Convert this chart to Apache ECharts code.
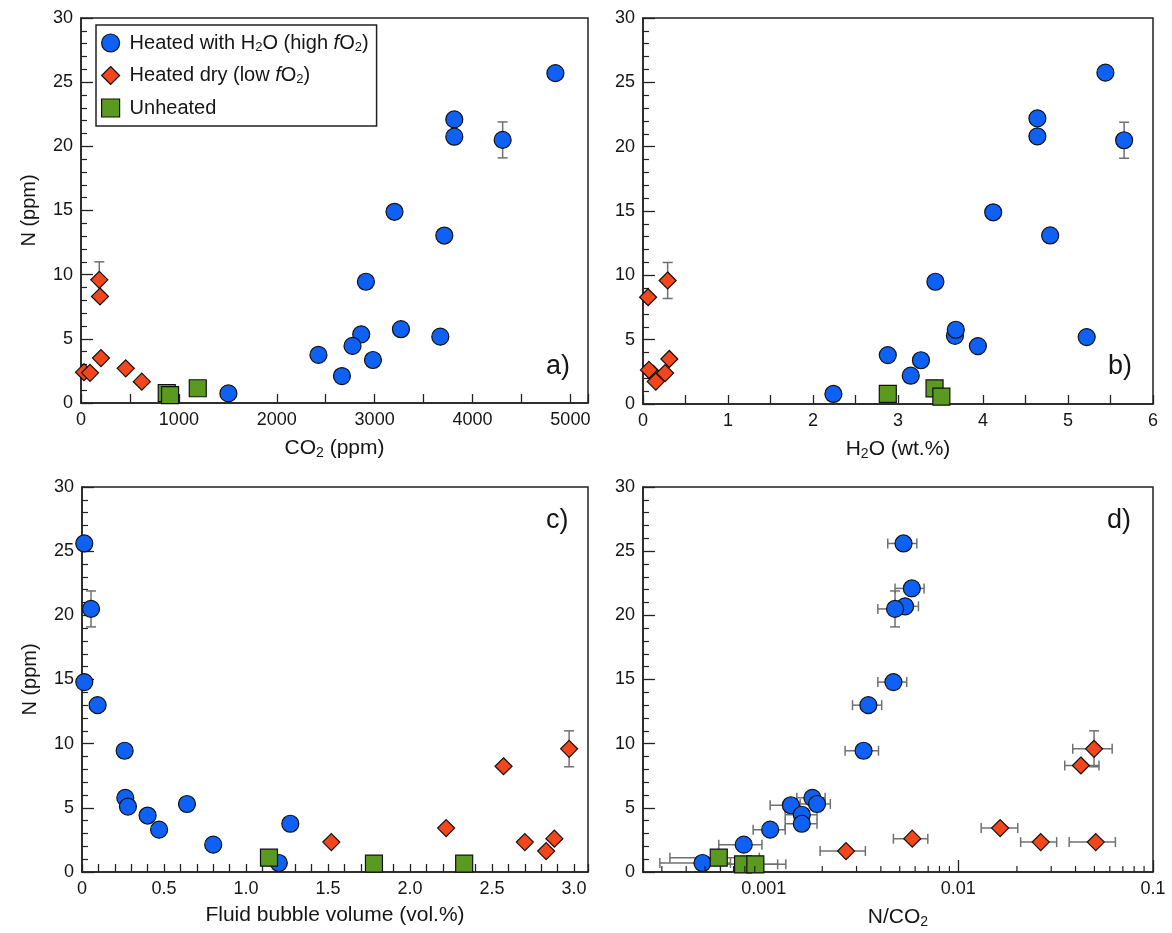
<!DOCTYPE html>
<html><head><meta charset="utf-8">
<script src="https://cdn.jsdelivr.net/npm/echarts@6/dist/echarts.min.js"></script>
<style>html,body{margin:0;padding:0;background:#fff}#c{width:1172px;height:933px}</style>
</head><body><div id="c"></div><script>
// ---------- Panel a: CO2 (ppm) vs N (ppm) ----------
const a_h2o_co2 = [4847, 3814, 3814, 4308, 3203, 3712, 2911, 2863, 2774, 3269, 3671, 2426, 2983, 2666, 1506];
const a_h2o_n   = [25.7, 22.1, 20.75, 20.5, 14.9, 13.05, 9.45, 5.35, 4.45, 5.75, 5.17, 3.75, 3.35, 2.1, 0.75];
const a_h2o_nerr = [0, 0, 0, 1.4, 0, 0, 0, 0, 0, 0, 0, 0, 0, 0, 0];
const a_dry_co2 = [187, 194, 204, 31, 92, 457, 621];
const a_dry_n   = [9.6, 8.3, 3.5, 2.4, 2.35, 2.7, 1.66];
const a_dry_nerr = [1.4, 0, 0, 0, 0, 0, 0];
const a_unh_co2 = [876, 910, 1193];
const a_unh_n   = [0.78, 0.62, 1.15];

// ---------- Panel b: H2O (wt.%) vs N (ppm) ----------
const b_h2o_h2o = [5.44, 4.64, 4.64, 5.66, 4.12, 4.79, 3.44, 3.67, 3.94, 3.68, 5.22, 2.88, 3.27, 3.15, 2.24];
const b_h2o_n   = [25.75, 22.2, 20.8, 20.5, 14.9, 13.1, 9.5, 5.3, 4.5, 5.77, 5.2, 3.8, 3.4, 2.2, 0.78];
const b_h2o_nerr = [0, 0, 0, 1.4, 0, 0, 0, 0, 0, 0, 0, 0, 0, 0, 0];
const b_dry_h2o = [0.29, 0.06, 0.31, 0.12, 0.07, 0.26, 0.15];
const b_dry_n   = [9.6, 8.3, 3.5, 2.35, 2.65, 2.4, 1.74];
const b_dry_nerr = [1.4, 0, 0, 0, 0, 0, 0];
const b_unh_h2o = [2.88, 3.43, 3.51];
const b_unh_n   = [0.78, 1.22, 0.57];

// ---------- Panel c: Fluid bubble volume (vol.%) vs N (ppm) ----------
const c_h2o_vol = [0.014, 0.055, 0.014, 0.095, 0.26, 0.264, 0.28, 0.40, 0.47, 0.64, 0.80, 1.27, 1.20];
const c_h2o_n   = [25.6, 20.5, 14.8, 13.0, 9.45, 5.78, 5.1, 4.4, 3.3, 5.3, 2.13, 3.76, 0.7];
const c_h2o_nerr = [0, 1.4, 0, 0, 0, 0, 0, 0, 0, 0, 0, 0, 0];
const c_dry_vol = [2.97, 2.57, 2.22, 1.52, 2.70, 2.88, 2.83];
const c_dry_n   = [9.6, 8.24, 3.42, 2.33, 2.33, 2.6, 1.63];
const c_dry_nerr = [1.4, 0, 0, 0, 0, 0, 0];
const c_unh_vol = [1.14, 1.78, 2.33];
const c_unh_n   = [1.12, 0.65, 0.65];

// ---------- Panel d: N/CO2 vs N (ppm) ----------
const d_h2o_ratio = [0.00523, 0.00577, 0.00533, 0.00473, 0.00464, 0.00345, 0.00326, 0.00178, 0.00188, 0.00138, 0.00157, 0.00157, 0.00108, 0.00079, 0.000485];
const d_h2o_n     = [25.6, 22.1, 20.7, 20.5, 14.8, 13.0, 9.45, 5.78, 5.3, 5.2, 4.46, 3.76, 3.3, 2.13, 0.7];
const d_h2o_lo    = [0.00434, 0.00473, 0.0045, 0.00386, 0.00386, 0.00286, 0.00262, 0.00148, 0.00154, 0.00108, 0.00129, 0.00129, 0.000883, 0.000588, 0.000293];
const d_h2o_hi    = [0.00612, 0.00667, 0.00624, 0.00543, 0.00543, 0.00404, 0.00389, 0.00207, 0.0022, 0.00148, 0.00188, 0.00188, 0.00129, 0.00098, 0.000675];
const d_h2o_nerr  = [0, 0, 0, 1.4, 0, 0, 0, 0, 0, 0, 0, 0, 0, 0, 0];
const d_dry_ratio = [0.0498, 0.0426, 0.0164, 0.0058, 0.00265, 0.0265, 0.0508];
const d_dry_n     = [9.6, 8.3, 3.42, 2.6, 1.63, 2.33, 2.33];
const d_dry_lo    = [0.0387, 0.0352, 0.0131, 0.00464, 0.00195, 0.0209, 0.0371];
const d_dry_hi    = [0.0617, 0.0528, 0.0202, 0.00697, 0.00333, 0.032, 0.0641];
const d_dry_nerr  = [1.4, 0, 0, 0, 0, 0, 0];
const d_unh_ratio = [0.000588, 0.000784, 0.000906];
const d_unh_n     = [1.12, 0.6, 0.6];
const d_unh_lo    = [0.00033, 0.00048, 0.00060];
const d_unh_hi    = [0.00095, 0.00118, 0.00130];
const d_minor_ticks = [0.0003, 0.0004, 0.0005, 0.0006, 0.0007, 0.0008, 0.0009,
  0.002, 0.003, 0.004, 0.005, 0.006, 0.007, 0.008, 0.009,
  0.02, 0.03, 0.04, 0.05, 0.06, 0.07, 0.08, 0.09];

// ---------- labels ----------
const NAME_H2O = 'Heated with H2O (high fO2)';
const NAME_DRY = 'Heated dry (low fO2)';
const NAME_UNH = 'Unheated';
const panelLabels = ['a)', 'b)', 'c)', 'd)'];
const yName = 'N (ppm)';

const FONT = 'Liberation Sans, Arial, Helvetica, sans-serif';
const BLUE = '#0f60f4', RED = '#f4461c', GREEN = '#5b9a20', ERR = '#707070', INK = '#151515';
const TICK_FS = 18, NAME_FS = 21;
const subRich = {
  n: {fontSize: NAME_FS, fontFamily: FONT, color: INK},
  s: {fontSize: 14, fontFamily: FONT, color: INK, padding: [10, 0, 0, 0]},
  i: {fontSize: NAME_FS, fontFamily: FONT, color: INK, fontStyle: 'italic'}
};

const grids = [
  {left: 81, top: 18, width: 507, height: 385},
  {left: 643, top: 18, width: 510, height: 386},
  {left: 82, top: 487, width: 506, height: 385},
  {left: 643, top: 487, width: 510, height: 385}
].map(g => Object.assign(g, {show: true, borderColor: '#222', borderWidth: 1.5, backgroundColor: '#fff'}));

function lbl(fmt) {
  return {color: INK, fontSize: TICK_FS, fontFamily: FONT, margin: 8, formatter: fmt};
}
function baseAxis(extra) {
  return Object.assign({
    axisLine: {show: true, onZero: false, lineStyle: {color: '#222', width: 1.5}},
    axisTick: {show: true, inside: true, length: 9, lineStyle: {color: '#222', width: 1.3}},
    splitLine: {show: false},
    axisLabel: lbl(undefined),
    nameTextStyle: {color: INK, fontSize: NAME_FS, fontFamily: FONT, rich: subRich}
  }, extra);
}
const near = (v, step) => Math.abs(v / step - Math.round(v / step)) < 1e-6;

const xAxes = [
  baseAxis({gridIndex: 0, type: 'value', min: 0, max: 5180, interval: 500,
    name: '{n|CO}{s|2}{n| (ppm)}', nameLocation: 'middle', nameGap: 33,
    axisLabel: lbl(v => (near(v, 1000) && v <= 5000) ? String(Math.round(v)) : '')}),
  baseAxis({gridIndex: 1, type: 'value', min: 0, max: 6, interval: 0.5,
    name: '{n|H}{s|2}{n|O (wt.%)}', nameLocation: 'middle', nameGap: 33,
    axisLabel: lbl(v => near(v, 1) ? String(Math.round(v)) : '')}),
  baseAxis({gridIndex: 2, type: 'value', min: 0, max: 3.085, interval: 0.1,
    name: 'Fluid bubble volume (vol.%)', nameLocation: 'middle', nameGap: 33,
    axisTick: {show: true, inside: true, length: 8, lineStyle: {color: '#222', width: 1.3}},
    axisLabel: lbl(v => (near(v, 0.5) && v <= 3.0001) ? (Math.abs(v) < 1e-9 ? '0' : v.toFixed(1)) : '')}),
  baseAxis({gridIndex: 3, type: 'log', logBase: 10, min: 0.00024, max: 0.1,
    name: '{n|N/CO}{s|2}', nameLocation: 'middle', nameGap: 33,
    axisTick: {show: true, inside: true, length: 12, lineStyle: {color: '#222', width: 1.3}},
    axisLabel: lbl(v => {
      const l = Math.log10(v), e = Math.round(l);
      if (Math.abs(l - e) > 1e-6) return '';
      return Math.pow(10, e).toFixed(-e);
    })})
];
const yAxes = [0, 1, 2, 3].map(i => baseAxis({
  gridIndex: i, type: 'value', min: 0, max: 30, interval: 5,
  name: (i % 2 === 0) ? yName : '', nameLocation: 'middle', nameGap: 42, nameRotate: 90,
  nameTextStyle: {color: INK, fontSize: 20, fontFamily: FONT},
  axisTick: {show: true, inside: true, length: 12, lineStyle: {color: '#222', width: 1.3}},
  minorTick: {show: true, splitNumber: 5, length: 6, lineStyle: {color: '#222', width: 1.2}}
}));

function zip(xs, ys) { return xs.map((x, k) => [x, ys[k]]); }
function scatter(name, i, xs, ys, color, symbol, size) {
  return {name: name, type: 'scatter', xAxisIndex: i, yAxisIndex: i, data: zip(xs, ys),
    symbol: symbol, symbolSize: size, z: 5,
    itemStyle: {color: color, borderColor: '#111', borderWidth: 1.2, opacity: 1}};
}
function errLines(dir) {
  return function (params, api) {
    const x = api.value(0), y = api.value(1), lo = api.value(2), hi = api.value(3);
    const cap = 5;
    let segs;
    if (dir === 'v') {
      const p1 = api.coord([x, lo]), p2 = api.coord([x, hi]);
      segs = [[p1[0], p1[1], p2[0], p2[1]], [p1[0] - cap, p1[1], p1[0] + cap, p1[1]], [p2[0] - cap, p2[1], p2[0] + cap, p2[1]]];
    } else {
      const p1 = api.coord([lo, y]), p2 = api.coord([hi, y]);
      segs = [[p1[0], p1[1], p2[0], p2[1]], [p1[0], p1[1] - cap, p1[0], p1[1] + cap], [p2[0], p2[1] - cap, p2[0], p2[1] + cap]];
    }
    return {type: 'group', children: segs.map(s => ({type: 'line',
      shape: {x1: s[0], y1: s[1], x2: s[2], y2: s[3]}, style: {stroke: ERR, lineWidth: 1.5}}))};
  };
}
function vErr(i, xs, ys, errs) {
  const data = [];
  xs.forEach((x, k) => { if (errs[k] > 0) data.push([x, ys[k], ys[k] - errs[k], ys[k] + errs[k]]); });
  return {type: 'custom', xAxisIndex: i, yAxisIndex: i, data: data, z: 3, silent: true,
    encode: {x: 0, y: 1}, renderItem: errLines('v')};
}
function hErr(i, xs, ys, los, his) {
  return {type: 'custom', xAxisIndex: i, yAxisIndex: i, data: xs.map((x, k) => [x, ys[k], los[k], his[k]]),
    z: 3, silent: true, encode: {x: 0, y: 1}, renderItem: errLines('h')};
}

const series = [
  // panel a
  vErr(0, a_h2o_co2, a_h2o_n, a_h2o_nerr), vErr(0, a_dry_co2, a_dry_n, a_dry_nerr),
  scatter(NAME_H2O, 0, a_h2o_co2, a_h2o_n, BLUE, 'circle', 17),
  scatter(NAME_DRY, 0, a_dry_co2, a_dry_n, RED, 'diamond', 17),
  scatter(NAME_UNH, 0, a_unh_co2, a_unh_n, GREEN, 'rect', 17),
  // panel b
  vErr(1, b_h2o_h2o, b_h2o_n, b_h2o_nerr), vErr(1, b_dry_h2o, b_dry_n, b_dry_nerr),
  scatter(NAME_H2O, 1, b_h2o_h2o, b_h2o_n, BLUE, 'circle', 17),
  scatter(NAME_DRY, 1, b_dry_h2o, b_dry_n, RED, 'diamond', 17),
  scatter(NAME_UNH, 1, b_unh_h2o, b_unh_n, GREEN, 'rect', 17),
  // panel c
  vErr(2, c_h2o_vol, c_h2o_n, c_h2o_nerr), vErr(2, c_dry_vol, c_dry_n, c_dry_nerr),
  scatter(NAME_H2O, 2, c_h2o_vol, c_h2o_n, BLUE, 'circle', 17),
  scatter(NAME_DRY, 2, c_dry_vol, c_dry_n, RED, 'diamond', 17),
  scatter(NAME_UNH, 2, c_unh_vol, c_unh_n, GREEN, 'rect', 17),
  // panel d
  vErr(3, d_h2o_ratio, d_h2o_n, d_h2o_nerr), vErr(3, d_dry_ratio, d_dry_n, d_dry_nerr),
  hErr(3, d_h2o_ratio, d_h2o_n, d_h2o_lo, d_h2o_hi),
  hErr(3, d_dry_ratio, d_dry_n, d_dry_lo, d_dry_hi),
  hErr(3, d_unh_ratio, d_unh_n, d_unh_lo, d_unh_hi),
  scatter(NAME_H2O, 3, d_h2o_ratio, d_h2o_n, BLUE, 'circle', 17),
  scatter(NAME_DRY, 3, d_dry_ratio, d_dry_n, RED, 'diamond', 17),
  scatter(NAME_UNH, 3, d_unh_ratio, d_unh_n, GREEN, 'rect', 17),
  {type: 'custom', xAxisIndex: 3, yAxisIndex: 3, silent: true, z: 6, encode: {x: 0, y: 1},
    data: d_minor_ticks.map(v => [v, 0]),
    renderItem: (p, api) => {
      const c = api.coord([api.value(0), 0]);
      return {type: 'line', shape: {x1: c[0], y1: c[1], x2: c[0], y2: c[1] - 6},
        style: {stroke: '#222', lineWidth: 1.2}};
    }}
];

const legendText = {};
legendText[NAME_H2O] = '{n|Heated with H}{s|2}{n|O (high }{i|f}{n|O}{s|2}{n|)}';
legendText[NAME_DRY] = '{n|Heated dry (low }{i|f}{n|O}{s|2}{n|)}';
legendText[NAME_UNH] = '{n|Unheated}';

const labelPos = [[546, 353], [1108, 353], [546, 507], [1107, 507]];

const option = {
  animation: false,
  backgroundColor: '#fff',
  grid: grids,
  xAxis: xAxes,
  yAxis: yAxes,
  title: panelLabels.map((t, k) => ({text: t, left: labelPos[k][0], top: labelPos[k][1], padding: 0,
    textStyle: {fontSize: 27, fontWeight: 'normal', fontFamily: FONT, color: INK}})),
  legend: {
    left: 96, top: 25, orient: 'vertical', padding: [8, 8, 8, 5],
    itemWidth: 18, itemHeight: 18, itemGap: 12,
    backgroundColor: '#fff', borderColor: '#222', borderWidth: 1.5, borderRadius: 0,
    selectedMode: false,
    data: [
      {name: NAME_H2O, icon: 'circle', itemStyle: {color: BLUE, borderColor: '#111', borderWidth: 1.2}},
      {name: NAME_DRY, icon: 'diamond', itemStyle: {color: RED, borderColor: '#111', borderWidth: 1.2}},
      {name: NAME_UNH, icon: 'rect', itemStyle: {color: GREEN, borderColor: '#111', borderWidth: 1.2}}
    ],
    formatter: n => legendText[n],
    textStyle: {padding: [0, 0, 0, 5], rich: {
      n: {fontSize: 20, fontFamily: FONT, color: INK},
      s: {fontSize: 13, fontFamily: FONT, color: INK, padding: [8, 0, 0, 0]},
      i: {fontSize: 20, fontFamily: FONT, color: INK, fontStyle: 'italic'}
    }}
  },
  series: series
};
const chart = echarts.init(document.getElementById('c'), null, {renderer: 'canvas'});
chart.setOption(option);
</script></body></html>
